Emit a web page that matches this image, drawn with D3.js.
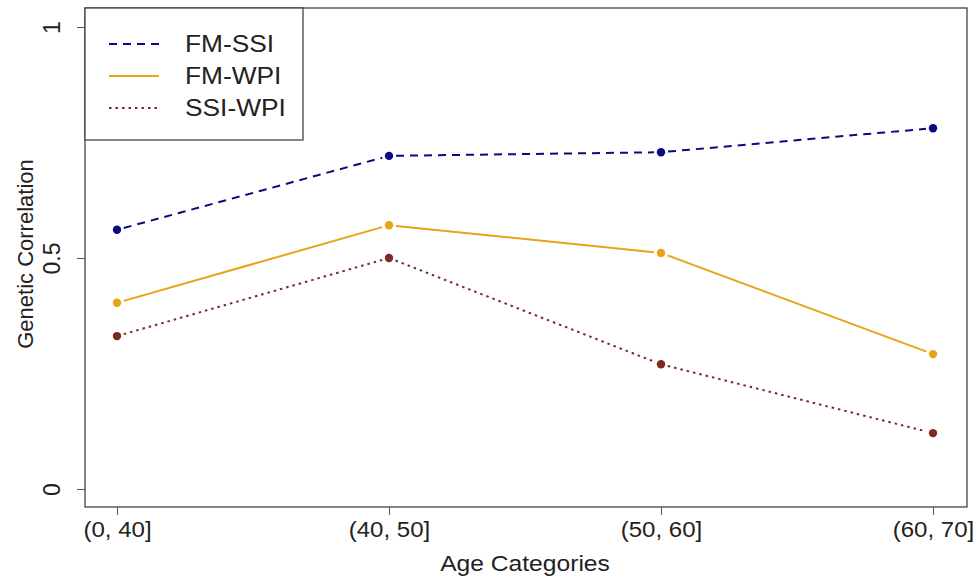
<html><head>
<script src="https://d3js.org/d3.v7.min.js"></script>
<style>
  body { margin: 0; background: #fff; }
  text { font-family: "Liberation Sans", Arial, sans-serif; fill: #222; }
</style>
</head>
<body>
<script>
  var categories = ["(0, 40]", "(40, 50]", "(50, 60]", "(60, 70]"];
  var fmSSI = [0.561, 0.721, 0.729, 0.781];
  var fmWPI = [0.403, 0.571, 0.511, 0.292];
  var ssiWPI = [0.331, 0.500, 0.270, 0.121];
  var seriesNames = ["FM-SSI", "FM-WPI", "SSI-WPI"];
  var yTicks = [0, 0.5, 1];

  var series = [
    { name: seriesNames[0], values: fmSSI, color: "#0b0b80", dash: "8,6" },
    { name: seriesNames[1], values: fmWPI, color: "#e8a317", dash: null },
    { name: seriesNames[2], values: ssiWPI, color: "#7d2a22", dash: "2.5,4" }
  ];

  let width = 977, height = 578;
  let margin = { top: 8, right: 10, bottom: 71, left: 85 };
  let chartWidth = width - margin.left - margin.right;
  let chartHeight = height - margin.top - margin.bottom;
  let sx = 1.12; // the reference text is a bit wider than tall

  let svg = d3.select("body").append("svg").attr("width", width).attr("height", height);
  let chart = svg.append("g").attr("transform", "translate(" + margin.left + "," + margin.top + ")");

  let xScale = d3.scalePoint().domain(categories).range([32, chartWidth - 34]);
  let yScale = d3.scaleLinear().domain([0, 1]).range([481, 19]);

  // box
  chart.append("rect").attr("x", 0).attr("y", 0).attr("width", chartWidth).attr("height", chartHeight)
    .attr("fill", "none").attr("stroke", "#444").attr("stroke-width", 1.3);

  let xAxis = d3.axisBottom(xScale).tickSize(8).tickPadding(6);
  let gx = chart.append("g").attr("transform", "translate(0," + chartHeight + ")").call(xAxis);
  gx.select(".domain").remove();
  gx.selectAll("line").attr("stroke", "#555");
  gx.selectAll("text").attr("font-size", 21.5).style("font-family", "Liberation Sans, Arial, sans-serif").attr("fill", "#222")
    .attr("transform", "translate(0,1) scale(" + sx + ",1)");

  let yAxis = d3.axisLeft(yScale).tickValues(yTicks).tickFormat(d3.format("")).tickSize(8).tickPadding(8);
  let gy = chart.append("g").call(yAxis);
  gy.select(".domain").remove();
  gy.selectAll("line").attr("stroke", "#555");
  gy.selectAll("text")
    .attr("font-size", 23).style("font-family", "Liberation Sans, Arial, sans-serif").attr("fill", "#222")
    .attr("x", null).attr("dy", null)
    .attr("text-anchor", "middle")
    .attr("transform", "translate(-25,0) rotate(-90)");

  // axis titles
  svg.append("text").attr("transform", "translate(" + (margin.left + chartWidth / 2 - 1) + ",571) scale(" + sx + ",1)")
    .attr("text-anchor", "middle").attr("font-size", 22).text("Age Categories");
  svg.append("text").attr("transform", "translate(33," + (margin.top + yScale(0.5) - 4) + ") rotate(-90)")
    .attr("text-anchor", "middle").attr("font-size", 22).text("Genetic Correlation");

  // lines with gaps near points (R type "b")
  let gap = 7;
  series.forEach(function(s) {
    let pts = s.values.map(function(v, i) { return [xScale(categories[i]), yScale(v)]; });
    for (let i = 0; i < pts.length - 1; i++) {
      let a = pts[i], b = pts[i + 1];
      let dx = b[0] - a[0], dy = b[1] - a[1];
      let len = Math.sqrt(dx * dx + dy * dy);
      let ux = dx / len, uy = dy / len;
      chart.append("line")
        .attr("x1", a[0] + ux * gap).attr("y1", a[1] + uy * gap)
        .attr("x2", b[0] - ux * gap).attr("y2", b[1] - uy * gap)
        .attr("stroke", s.color).attr("stroke-width", 2)
        .attr("stroke-dasharray", s.dash);
    }
    pts.forEach(function(p) {
      chart.append("circle").attr("cx", p[0]).attr("cy", p[1]).attr("r", 4.2).attr("fill", s.color);
    });
  });

  // legend
  let legend = chart.append("g");
  legend.append("rect").attr("x", 0).attr("y", 0).attr("width", 218).attr("height", 132)
    .attr("fill", "#fff").attr("stroke", "#444").attr("stroke-width", 1.3);
  series.forEach(function(s, i) {
    let y = 36 + i * 32;
    legend.append("line").attr("x1", 24).attr("x2", 74).attr("y1", y).attr("y2", y)
      .attr("stroke", s.color).attr("stroke-width", 2).attr("stroke-dasharray", s.dash);
    legend.append("text").attr("transform", "translate(100," + (y + 8) + ") scale(" + sx + ",1)")
      .attr("font-size", 23.5).text(s.name);
  });
</script>
</body>
</html>
